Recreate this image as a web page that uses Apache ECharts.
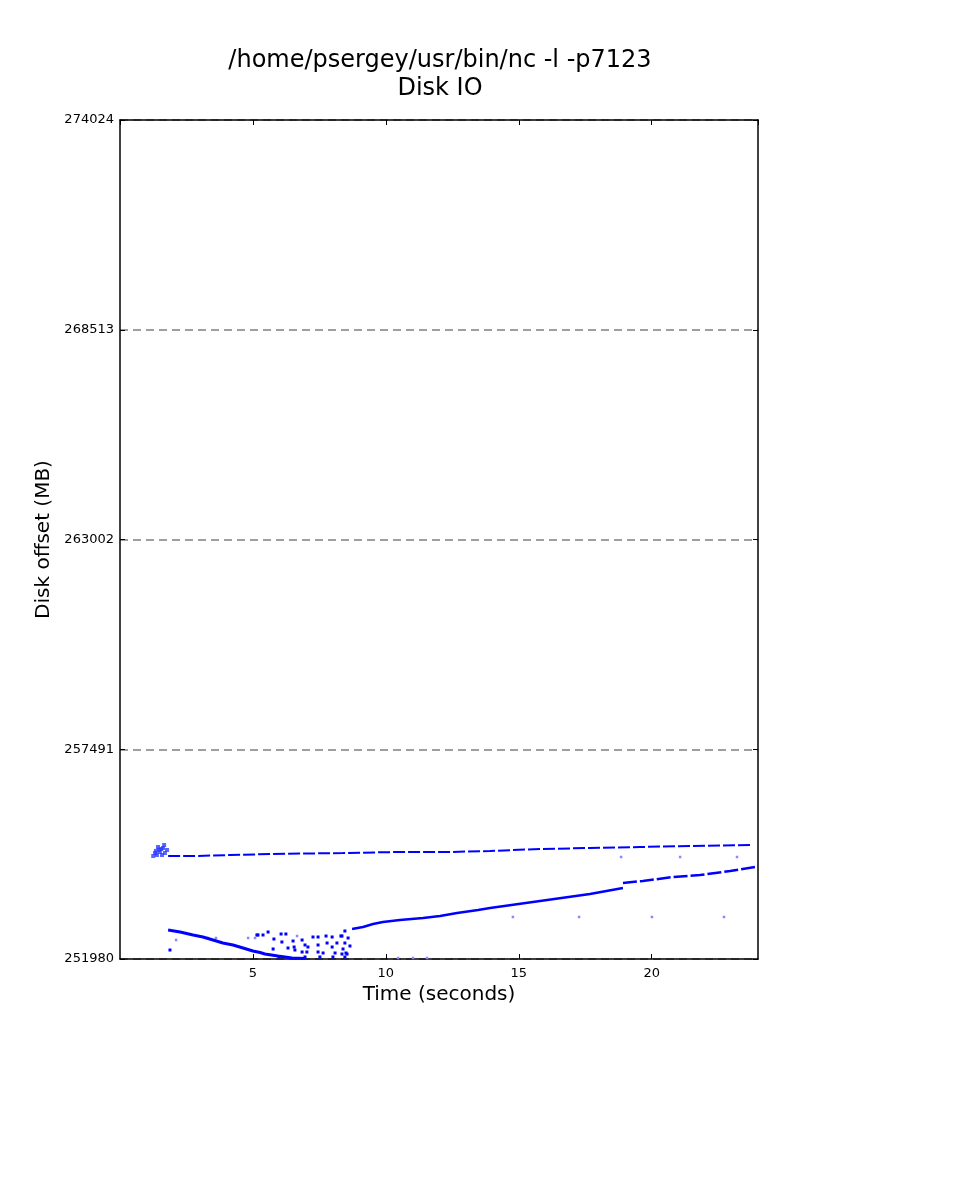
<!DOCTYPE html>
<html>
<head>
<meta charset="utf-8">
<script src="https://cdn.jsdelivr.net/npm/echarts@6/dist/echarts.min.js"></script>
<style>
  html, body { margin: 0; padding: 0; background: #fff; }
  #chart { width: 960px; height: 1200px; }
</style>
</head>
<body>
<div id="chart"></div>
<script>
// tick labels (MB) - the axis runs from first to last
const yTickLabels = [251980, 257491, 263002, 268513, 274024]
const xTickStep = 5
const xMax = 24

// [seconds, MB]
const burstPoints = [
  [1.32, 254765], [1.43, 254923], [1.50, 254791], [1.62, 254896], [1.69, 254765],
  [1.77, 254844], [1.39, 254712], [1.58, 254712], [1.25, 254686], [1.66, 254975],
  [1.47, 254850], [1.55, 254870], [1.35, 254820]
]
const upperTrace = [
  [1.81, 254686], [2.90, 254686], [4.14, 254712], [5.76, 254739], [8.39, 254765],
  [10.42, 254791], [12.41, 254791], [13.92, 254818], [15.80, 254870], [17.68, 254896],
  [19.56, 254923], [21.44, 254949], [23.81, 254975]
]
const descTrace = [
  [1.81, 252742], [2.26, 252689], [2.75, 252611], [3.12, 252558], [3.50, 252479],
  [3.87, 252400], [4.25, 252348], [4.63, 252269], [5.00, 252190], [5.27, 252150],
  [5.45, 252111], [5.94, 252059], [6.47, 252006], [6.96, 251993]
]
const riseTrace = [
  [8.73, 252768], [9.14, 252821], [9.52, 252900], [9.89, 252952], [10.53, 253005],
  [11.40, 253057], [12.04, 253110], [12.68, 253189], [13.47, 253267], [13.92, 253320],
  [15.80, 253504], [17.68, 253688], [18.92, 253845]
]
const riseTrace2 = [
  [18.92, 253977], [19.67, 254029], [20.80, 254134], [21.82, 254187], [22.95, 254292],
  [23.89, 254397]
]
const scatterPoints = [
  [1.88, 252216], [5.19, 252611], [5.15, 252611], [5.38, 252611], [5.57, 252689],
  [5.79, 252505], [6.06, 252637], [6.24, 252637], [6.51, 252453], [6.09, 252427],
  [6.55, 252295], [6.85, 252479], [6.96, 252348], [7.07, 252295], [7.26, 252558],
  [7.45, 252558], [7.45, 252348], [7.75, 252584], [7.98, 252558], [8.31, 252584],
  [8.46, 252716], [8.58, 252532], [8.65, 252322], [8.46, 252400], [8.16, 252400],
  [7.98, 252295], [7.79, 252400], [7.64, 252138], [7.45, 252164], [7.03, 252164],
  [6.85, 252164], [6.58, 252216], [6.32, 252269], [5.76, 252243], [5.98, 252033],
  [8.09, 252138], [8.35, 252111], [8.54, 252111], [8.35, 252584], [8.39, 252243],
  [8.50, 252138], [6.96, 252033], [7.52, 252033], [8.01, 252033], [8.46, 252033]
]
const faintPoints = [
  [2.11, 252479], [3.31, 252532], [3.61, 252532], [4.82, 252532], [5.08, 252532],
  [6.66, 252584], [10.46, 252006], [11.02, 252006], [11.55, 252006], [14.78, 253084],
  [17.27, 253084], [20.01, 253084], [22.72, 253084], [18.85, 254660], [21.07, 254660],
  [23.21, 254660]
]

const yBase = yTickLabels[0]
const yStep = yTickLabels[1] - yTickLabels[0]
const yTop = yTickLabels[yTickLabels.length - 1] - yBase
// shift so ticks start at a multiple of the interval
const shift = (pts) => pts.map(p => [p[0], p[1] - yBase])

const font = 'DejaVu Sans'
const blue = '#0000ff'

const chart = echarts.init(document.getElementById('chart'))

const frameX = (pos, showLabel) => ({
  type: 'value',
  position: pos,
  min: 0,
  max: xMax,
  interval: xTickStep,
  axisLine: { show: true, onZero: false, lineStyle: { color: '#000', width: 1.5 } },
  axisTick: { show: true, inside: true, length: 5, lineStyle: { color: '#000' } },
  axisLabel: {
    show: showLabel, showMinLabel: false, showMaxLabel: false,
    color: '#000', fontSize: 13, fontFamily: font, margin: 8
  },
  splitLine: { show: false }
})
const frameY = (pos, showLabel) => ({
  type: 'value',
  position: pos,
  min: 0,
  max: yTop,
  interval: yStep,
  axisLine: { show: true, onZero: false, lineStyle: { color: '#000', width: 1.5 } },
  axisTick: { show: true, inside: true, length: 5, lineStyle: { color: '#000' } },
  axisLabel: {
    show: showLabel, color: '#000', fontSize: 13, fontFamily: font, margin: 6,
    formatter: v => String(v + yBase)
  },
  splitLine: showLabel
    ? { show: true, lineStyle: { color: '#808080', width: 1.5, type: [8, 5] } }
    : { show: false }
})

const xBottom = frameX('bottom', true)
xBottom.name = 'Time (seconds)'
xBottom.nameLocation = 'middle'
xBottom.nameGap = 25
xBottom.nameTextStyle = { color: '#000', fontSize: 20, fontFamily: font }

const yLeft = frameY('left', true)
yLeft.name = 'Disk offset (MB)'
yLeft.nameLocation = 'middle'
yLeft.nameGap = 63
yLeft.nameTextStyle = { color: '#000', fontSize: 20, fontFamily: font }

const dots = (data, color, opacity, size) => ({
  type: 'scatter',
  data: shift(data),
  symbol: 'rect',
  symbolSize: size,
  itemStyle: { color: color, opacity: opacity },
  silent: true,
  z: 3
})
const trace = (data, width, dash) => ({
  type: 'line',
  data: shift(data),
  showSymbol: false,
  lineStyle: { color: blue, width: width, type: dash || 'solid' },
  silent: true,
  z: 4
})

chart.setOption({
  animation: false,
  backgroundColor: '#fff',
  title: {
    text: '/home/psergey/usr/bin/nc -l -p7123\nDisk IO',
    left: 435,
    top: 42,
    textAlign: 'center',
    textStyle: { color: '#000', fontSize: 24, fontWeight: 'normal', fontFamily: font, lineHeight: 28 }
  },
  grid: { left: 120, right: 202, top: 120, bottom: 241 },
  xAxis: [xBottom, frameX('top', false)],
  yAxis: [yLeft, frameY('right', false)],
  series: [
    dots(burstPoints, '#2233ff', 0.75, 4),
    trace(upperTrace, 2, [12, 3]),
    trace(descTrace, 3),
    trace(riseTrace, 2.5),
    trace(riseTrace2, 2.5, [14, 3]),
    dots(scatterPoints, blue, 1, 3),
    dots(faintPoints, '#8888ff', 1, 2.5)
  ]
})
</script>
</body>
</html>
